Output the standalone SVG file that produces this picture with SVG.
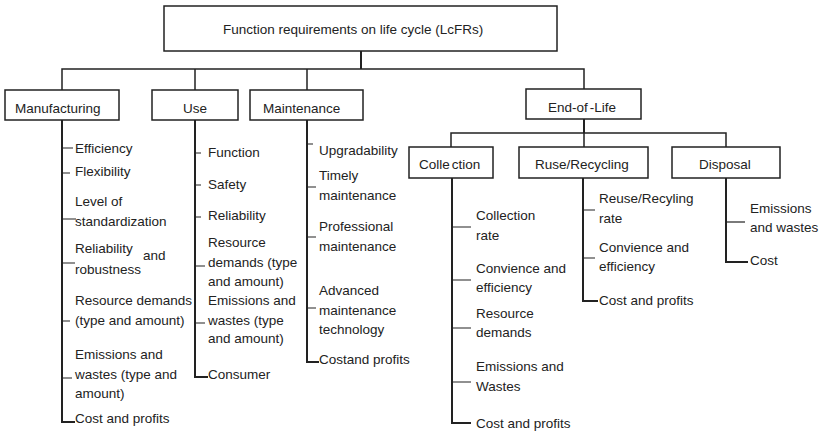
<svg xmlns="http://www.w3.org/2000/svg" width="821" height="434" viewBox="0 0 821 434">
<style>
.box{fill:#fff;stroke:#222;stroke-width:1.5}
.t{font-family:"Liberation Sans",Arial,sans-serif;font-size:13.5px;fill:#222}
.ln{stroke:#222;stroke-width:1.5;fill:none}
.stem{stroke:#222;stroke-width:2;fill:none}
.tk{stroke:#222;stroke-width:1.2;fill:none}
</style>
<rect width="821" height="434" fill="#fff"/>
<g id="connectors">
<path class="stem" d="M361 51V69"/>
<path class="ln" d="M62 90V69H584V89M195 69V90M307 69V90"/>
<path class="stem" d="M584 119V133"/>
<path class="ln" d="M451 147V133H726V147M584 133V147"/>
<path class="stem" d="M62 120V422H75"/>
<path class="tk" d="M62 148H73M62 173H70M62 219H76M62 263H75M62 321H70M62 378H72"/>
<path class="stem" d="M195 120V377H208"/>
<path class="tk" d="M195 153H201M195 185H201M195 217H201M195 266H205M195 323H205"/>
<path class="stem" d="M307 120V362H319"/>
<path class="tk" d="M307 144H313M307 187H316M307 237H316M307 308H316"/>
<path class="stem" d="M452 178V423H471"/>
<path class="tk" d="M452 227H471M452 280H471M452 328H471M452 382H471"/>
<path class="stem" d="M583 178V301H598"/>
<path class="tk" d="M583 210H595M583 258H595"/>
<path class="stem" d="M726 178V262H748"/>
<path class="tk" d="M726 222H745"/>
</g>
<g id="root"><rect class="box" x="164" y="6" width="393" height="45"/><text class="t" x="223" y="34">Function requirements on life cycle (LcFRs)</text></g>
<g id="manufacturing"><rect class="box" x="5" y="90" width="114" height="30"/><text class="t" x="15" y="113">Manufacturing</text></g>
<g id="use"><rect class="box" x="152" y="90" width="86" height="30"/><text class="t" x="183" y="113">Use</text></g>
<g id="maintenance"><rect class="box" x="250" y="90" width="113" height="30"/><text class="t" x="263" y="113">Maintenance</text></g>
<g id="endoflife"><rect class="box" x="526" y="89" width="115" height="30"/><text class="t" x="548" y="112">End-of<tspan dx="2">-Life</tspan></text></g>
<g id="collection"><rect class="box" x="409" y="147" width="84" height="31"/><text class="t" x="419" y="169">Colle<tspan dx="2">ction</tspan></text></g>
<g id="recycling"><rect class="box" x="519" y="147" width="129" height="31"/><text class="t" x="535" y="169">Ruse/Recycling</text></g>
<g id="disposal"><rect class="box" x="672" y="147" width="108" height="31"/><text class="t" x="699" y="169">Disposal</text></g>
<g id="manufacturing-items" class="t">
<text x="75" y="153">Efficiency</text>
<text x="75" y="176">Flexibility</text>
<text x="75" y="206">Level of</text>
<text x="75" y="226">standardization</text>
<text x="75" y="253">Reliability</text>
<text x="143" y="260">and</text>
<text x="75" y="274">robustness</text>
<text x="75" y="305">Resource demands</text>
<text x="75" y="325">(type and amount)</text>
<text x="75" y="359">Emissions and</text>
<text x="75" y="379">wastes (type and</text>
<text x="75" y="398">amount)</text>
<text x="75" y="423">Cost and profits</text>
</g>
<g id="use-items" class="t">
<text x="208" y="157">Function</text>
<text x="208" y="189">Safety</text>
<text x="208" y="220">Reliability</text>
<text x="208" y="247">Resource</text>
<text x="208" y="267">demands (type</text>
<text x="208" y="286">and amount)</text>
<text x="208" y="305">Emissions and</text>
<text x="208" y="325">wastes (type</text>
<text x="208" y="343">and amount)</text>
<text x="208" y="379">Consumer</text>
</g>
<g id="maintenance-items" class="t">
<text x="319" y="155">Upgradability</text>
<text x="319" y="180">Timely</text>
<text x="319" y="200">maintenance</text>
<text x="319" y="231">Professional</text>
<text x="319" y="251">maintenance</text>
<text x="319" y="295">Advanced</text>
<text x="319" y="315">maintenance</text>
<text x="319" y="334">technology</text>
<text x="319" y="364">Costand profits</text>
</g>
<g id="collection-items" class="t">
<text x="476" y="220">Collection</text>
<text x="476" y="240">rate</text>
<text x="476" y="273">Convience and</text>
<text x="476" y="292">efficiency</text>
<text x="476" y="318">Resource</text>
<text x="476" y="337">demands</text>
<text x="476" y="371">Emissions and</text>
<text x="476" y="391">Wastes</text>
<text x="476" y="428">Cost and profits</text>
</g>
<g id="recycling-items" class="t">
<text x="599" y="203">Reuse/Recyling</text>
<text x="599" y="223">rate</text>
<text x="599" y="252">Convience and</text>
<text x="599" y="271">efficiency</text>
<text x="599" y="305">Cost and profits</text>
</g>
<g id="disposal-items" class="t">
<text x="750" y="213">Emissions</text>
<text x="750" y="232">and wastes</text>
<text x="750" y="265">Cost</text>
</g>
</svg>
